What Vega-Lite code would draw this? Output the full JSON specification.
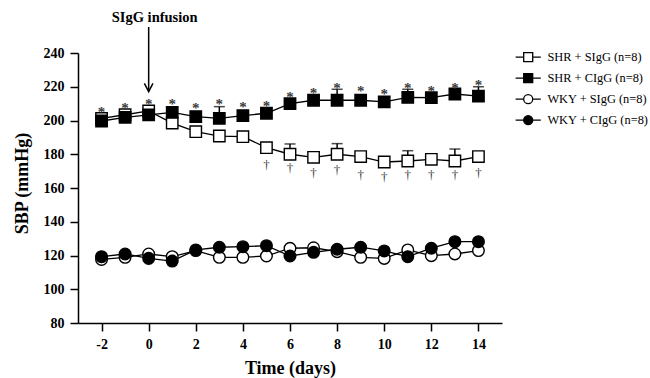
{
  "$schema": "https://vega.github.io/schema/vega-lite/v6.json",
  "width": 424,
  "height": 270,
  "autosize": "none",
  "padding": {"left": 78, "top": 53, "right": 148, "bottom": 55},
  "config": {
    "view": {"stroke": null},
    "font": "Liberation Serif",
    "axis": {
      "grid": false,
      "domainColor": "black",
      "domainWidth": 1.5,
      "tickColor": "black",
      "tickWidth": 1.5,
      "tickSize": 8,
      "labelFont": "Liberation Serif",
      "labelFontWeight": "bold",
      "labelFontSize": 14,
      "labelColor": "black",
      "labelOverlap": false,
      "titleFont": "Liberation Serif",
      "titleFontWeight": "bold",
      "titleColor": "black"
    }
  },
  "datasets": {
    "series": [
      {"day": -2, "group": "SHR + SIgG (n=8)", "sbp": 201.2},
      {"day": -1, "group": "SHR + SIgG (n=8)", "sbp": 203.4},
      {"day": 0, "group": "SHR + SIgG (n=8)", "sbp": 205.7},
      {"day": 1, "group": "SHR + SIgG (n=8)", "sbp": 198.5},
      {"day": 2, "group": "SHR + SIgG (n=8)", "sbp": 193.4},
      {"day": 3, "group": "SHR + SIgG (n=8)", "sbp": 190.8},
      {"day": 4, "group": "SHR + SIgG (n=8)", "sbp": 190.4},
      {"day": 5, "group": "SHR + SIgG (n=8)", "sbp": 183.9},
      {"day": 6, "group": "SHR + SIgG (n=8)", "sbp": 180.0, "hi": 186.1},
      {"day": 7, "group": "SHR + SIgG (n=8)", "sbp": 178.2},
      {"day": 8, "group": "SHR + SIgG (n=8)", "sbp": 180.0, "hi": 186.3},
      {"day": 9, "group": "SHR + SIgG (n=8)", "sbp": 178.6},
      {"day": 10, "group": "SHR + SIgG (n=8)", "sbp": 175.4},
      {"day": 11, "group": "SHR + SIgG (n=8)", "sbp": 176.0, "hi": 182.1},
      {"day": 12, "group": "SHR + SIgG (n=8)", "sbp": 177.0},
      {"day": 13, "group": "SHR + SIgG (n=8)", "sbp": 176.0, "hi": 183.1},
      {"day": 14, "group": "SHR + SIgG (n=8)", "sbp": 178.6},
      {"day": -2, "group": "SHR + CIgG (n=8)", "sbp": 199.7},
      {"day": -1, "group": "SHR + CIgG (n=8)", "sbp": 201.9},
      {"day": 0, "group": "SHR + CIgG (n=8)", "sbp": 203.3},
      {"day": 1, "group": "SHR + CIgG (n=8)", "sbp": 204.8},
      {"day": 2, "group": "SHR + CIgG (n=8)", "sbp": 202.3},
      {"day": 3, "group": "SHR + CIgG (n=8)", "sbp": 201.3, "hi": 208.2},
      {"day": 4, "group": "SHR + CIgG (n=8)", "sbp": 202.9},
      {"day": 5, "group": "SHR + CIgG (n=8)", "sbp": 204.3},
      {"day": 6, "group": "SHR + CIgG (n=8)", "sbp": 210.0},
      {"day": 7, "group": "SHR + CIgG (n=8)", "sbp": 212.0},
      {"day": 8, "group": "SHR + CIgG (n=8)", "sbp": 212.0, "hi": 218.5},
      {"day": 9, "group": "SHR + CIgG (n=8)", "sbp": 212.0},
      {"day": 10, "group": "SHR + CIgG (n=8)", "sbp": 211.0},
      {"day": 11, "group": "SHR + CIgG (n=8)", "sbp": 213.7, "hi": 218.5},
      {"day": 12, "group": "SHR + CIgG (n=8)", "sbp": 213.5},
      {"day": 13, "group": "SHR + CIgG (n=8)", "sbp": 215.7},
      {"day": 14, "group": "SHR + CIgG (n=8)", "sbp": 214.5, "hi": 220.0},
      {"day": -2, "group": "WKY + SIgG (n=8)", "sbp": 117.7},
      {"day": -1, "group": "WKY + SIgG (n=8)", "sbp": 118.9},
      {"day": 0, "group": "WKY + SIgG (n=8)", "sbp": 120.9},
      {"day": 1, "group": "WKY + SIgG (n=8)", "sbp": 119.3},
      {"day": 2, "group": "WKY + SIgG (n=8)", "sbp": 122.9},
      {"day": 3, "group": "WKY + SIgG (n=8)", "sbp": 118.9},
      {"day": 4, "group": "WKY + SIgG (n=8)", "sbp": 118.9},
      {"day": 5, "group": "WKY + SIgG (n=8)", "sbp": 119.7},
      {"day": 6, "group": "WKY + SIgG (n=8)", "sbp": 124.3},
      {"day": 7, "group": "WKY + SIgG (n=8)", "sbp": 124.6},
      {"day": 8, "group": "WKY + SIgG (n=8)", "sbp": 122.3},
      {"day": 9, "group": "WKY + SIgG (n=8)", "sbp": 118.9},
      {"day": 10, "group": "WKY + SIgG (n=8)", "sbp": 118.3},
      {"day": 11, "group": "WKY + SIgG (n=8)", "sbp": 123.3},
      {"day": 12, "group": "WKY + SIgG (n=8)", "sbp": 119.9},
      {"day": 13, "group": "WKY + SIgG (n=8)", "sbp": 120.9},
      {"day": 14, "group": "WKY + SIgG (n=8)", "sbp": 122.9},
      {"day": -2, "group": "WKY + CIgG (n=8)", "sbp": 119.3},
      {"day": -1, "group": "WKY + CIgG (n=8)", "sbp": 120.9},
      {"day": 0, "group": "WKY + CIgG (n=8)", "sbp": 118.3},
      {"day": 1, "group": "WKY + CIgG (n=8)", "sbp": 116.7},
      {"day": 2, "group": "WKY + CIgG (n=8)", "sbp": 123.3},
      {"day": 3, "group": "WKY + CIgG (n=8)", "sbp": 124.9},
      {"day": 4, "group": "WKY + CIgG (n=8)", "sbp": 125.2},
      {"day": 5, "group": "WKY + CIgG (n=8)", "sbp": 125.8},
      {"day": 6, "group": "WKY + CIgG (n=8)", "sbp": 119.7},
      {"day": 7, "group": "WKY + CIgG (n=8)", "sbp": 121.9},
      {"day": 8, "group": "WKY + CIgG (n=8)", "sbp": 123.7},
      {"day": 9, "group": "WKY + CIgG (n=8)", "sbp": 124.9},
      {"day": 10, "group": "WKY + CIgG (n=8)", "sbp": 122.7},
      {"day": 11, "group": "WKY + CIgG (n=8)", "sbp": 119.3},
      {"day": 12, "group": "WKY + CIgG (n=8)", "sbp": 124.3},
      {"day": 13, "group": "WKY + CIgG (n=8)", "sbp": 128.2},
      {"day": 14, "group": "WKY + CIgG (n=8)", "sbp": 128.2}
    ],
    "stars": [
      {"day": -2, "y": 207.6}, {"day": -1, "y": 209.6}, {"day": 0, "y": 212.0},
      {"day": 1, "y": 212.0}, {"day": 2, "y": 209.6}, {"day": 3, "y": 212.0},
      {"day": 4, "y": 210.2}, {"day": 5, "y": 210.8}, {"day": 6, "y": 216.5},
      {"day": 7, "y": 218.7}, {"day": 8, "y": 221.6}, {"day": 9, "y": 220.0},
      {"day": 10, "y": 218.0}, {"day": 11, "y": 221.6}, {"day": 12, "y": 219.7},
      {"day": 13, "y": 221.6}, {"day": 14, "y": 223.6}
    ],
    "daggers": [
      {"day": 5, "y": 173.6}, {"day": 6, "y": 171.7}, {"day": 7, "y": 169.1},
      {"day": 8, "y": 170.7}, {"day": 9, "y": 167.7}, {"day": 10, "y": 166.7},
      {"day": 11, "y": 167.7}, {"day": 12, "y": 167.7}, {"day": 13, "y": 167.7},
      {"day": 14, "y": 168.7}
    ],
    "arrow": [
      {"day": 0, "top": 255.4, "tip": 217.1, "label": "SIgG infusion", "labelY": 258.4}
    ]
  },
  "encoding": {
    "x": {
      "field": "day",
      "type": "quantitative",
      "scale": {"domain": [-3, 15], "nice": false, "zero": false},
      "axis": {
        "values": [-2, 0, 2, 4, 6, 8, 10, 12, 14],
        "labelExpr": "'' + datum.value",
        "title": "Time (days)",
        "titleFontSize": 18,
        "titlePadding": 8,
        "labelPadding": 6
      }
    }
  },
  "layer": [
    {
      "data": {"name": "series"},
      "mark": {"type": "point", "size": 81, "stroke": "black", "strokeWidth": 1.3, "opacity": 0},
      "encoding": {
        "y": {"field": "sbp", "type": "quantitative", "scale": {"domain": [80, 240], "nice": false, "zero": false},
          "axis": {"values": [80, 100, 120, 140, 160, 180, 200, 220, 240], "title": "SBP (mmHg)", "titleFontSize": 18, "labelPadding": 6, "titlePadding": 12, "titleY": 130}},
        "shape": {
          "field": "group",
          "type": "nominal",
          "scale": {
            "domain": ["SHR + SIgG (n=8)", "SHR + CIgG (n=8)", "WKY + SIgG (n=8)", "WKY + CIgG (n=8)"],
            "range": [
              "M-2.8,0H-1M1,0H2.8M-1,-1H1V1H-1Z",
              "M-2.8,0H-1M1,0H2.8M-1,-1H1V1H-1Z",
              "M-2.8,0H-1M1,0H2.8M1,0A1,1,0,1,0,-1,0A1,1,0,1,0,1,0Z",
              "M-2.8,0H-1M1,0H2.8M1,0A1,1,0,1,0,-1,0A1,1,0,1,0,1,0Z"
            ]
          },
          "legend": {
            "title": null, "orient": "none", "legendX": 444, "legendY": -2,
            "symbolSize": 81, "symbolOpacity": 1, "symbolStrokeWidth": 1.3,
            "labelFont": "Liberation Serif", "labelFontSize": 12.4, "labelColor": "black",
            "labelOffset": 13, "rowPadding": 6, "padding": 0
          }
        },
        "fill": {
          "field": "group",
          "type": "nominal",
          "scale": {
            "domain": ["SHR + SIgG (n=8)", "SHR + CIgG (n=8)", "WKY + SIgG (n=8)", "WKY + CIgG (n=8)"],
            "range": ["white", "black", "white", "black"]
          },
          "legend": {
            "title": null, "orient": "none", "legendX": 444, "legendY": -2,
            "symbolSize": 81, "symbolOpacity": 1, "symbolStrokeWidth": 1.3,
            "labelFont": "Liberation Serif", "labelFontSize": 12.4, "labelColor": "black",
            "labelOffset": 13, "rowPadding": 6, "padding": 0
          }
        },
        "stroke": {
          "field": "group",
          "type": "nominal",
          "scale": {
            "domain": ["SHR + SIgG (n=8)", "SHR + CIgG (n=8)", "WKY + SIgG (n=8)", "WKY + CIgG (n=8)"],
            "range": ["black", "black", "black", "black"]
          },
          "legend": {
            "title": null, "orient": "none", "legendX": 444, "legendY": -2,
            "symbolSize": 81, "symbolOpacity": 1, "symbolStrokeWidth": 1.3,
            "labelFont": "Liberation Serif", "labelFontSize": 12.4, "labelColor": "black",
            "labelOffset": 13, "rowPadding": 6, "padding": 0
          }
        }
      }
    },
    {
      "data": {"name": "series"},
      "mark": {"type": "line", "color": "black", "strokeWidth": 1.3},
      "encoding": {
        "y": {"field": "sbp", "type": "quantitative",
          "axis": {"values": [80, 100, 120, 140, 160, 180, 200, 220, 240], "title": "SBP (mmHg)", "titleFontSize": 18, "labelPadding": 6, "titlePadding": 12, "titleY": 130}},
        "detail": {"field": "group", "type": "nominal"}
      }
    },
    {
      "data": {"name": "series"},
      "mark": {"type": "rule", "color": "black", "strokeWidth": 1.5},
      "encoding": {
        "y": {"field": "sbp", "type": "quantitative",
          "axis": {"values": [80, 100, 120, 140, 160, 180, 200, 220, 240], "title": "SBP (mmHg)", "titleFontSize": 18, "labelPadding": 6, "titlePadding": 12, "titleY": 130}},
        "y2": {"field": "hi"}
      }
    },
    {
      "data": {"name": "series"},
      "mark": {"type": "tick", "orient": "horizontal", "color": "black", "size": 11, "thickness": 1.5},
      "encoding": {
        "y": {"field": "hi", "type": "quantitative",
          "axis": {"values": [80, 100, 120, 140, 160, 180, 200, 220, 240], "title": "SBP (mmHg)", "titleFontSize": 18, "labelPadding": 6, "titlePadding": 12, "titleY": 130}}
      }
    },
    {
      "data": {"name": "series"},
      "transform": [{"filter": "datum.group === 'SHR + SIgG (n=8)'"}],
      "mark": {"type": "point", "shape": "square", "size": 130, "fill": "white", "stroke": "black", "strokeWidth": 1.4, "opacity": 1},
      "encoding": {
        "y": {"field": "sbp", "type": "quantitative",
          "axis": {"values": [80, 100, 120, 140, 160, 180, 200, 220, 240], "title": "SBP (mmHg)", "titleFontSize": 18, "labelPadding": 6, "titlePadding": 12, "titleY": 130}}
      }
    },
    {
      "data": {"name": "series"},
      "transform": [{"filter": "datum.group === 'SHR + CIgG (n=8)'"}],
      "mark": {"type": "point", "shape": "square", "size": 130, "fill": "black", "stroke": "black", "strokeWidth": 1.4, "opacity": 1},
      "encoding": {
        "y": {"field": "sbp", "type": "quantitative",
          "axis": {"values": [80, 100, 120, 140, 160, 180, 200, 220, 240], "title": "SBP (mmHg)", "titleFontSize": 18, "labelPadding": 6, "titlePadding": 12, "titleY": 130}}
      }
    },
    {
      "data": {"name": "series"},
      "transform": [{"filter": "datum.group === 'WKY + SIgG (n=8)'"}],
      "mark": {"type": "point", "shape": "circle", "size": 135, "fill": "white", "stroke": "black", "strokeWidth": 1.4, "opacity": 1},
      "encoding": {
        "y": {"field": "sbp", "type": "quantitative",
          "axis": {"values": [80, 100, 120, 140, 160, 180, 200, 220, 240], "title": "SBP (mmHg)", "titleFontSize": 18, "labelPadding": 6, "titlePadding": 12, "titleY": 130}}
      }
    },
    {
      "data": {"name": "series"},
      "transform": [{"filter": "datum.group === 'WKY + CIgG (n=8)'"}],
      "mark": {"type": "point", "shape": "circle", "size": 135, "fill": "black", "stroke": "black", "strokeWidth": 1.4, "opacity": 1},
      "encoding": {
        "y": {"field": "sbp", "type": "quantitative",
          "axis": {"values": [80, 100, 120, 140, 160, 180, 200, 220, 240], "title": "SBP (mmHg)", "titleFontSize": 18, "labelPadding": 6, "titlePadding": 12, "titleY": 130}}
      }
    },
    {
      "data": {"name": "stars"},
      "mark": {"type": "text", "text": "*", "fontSize": 15, "fontWeight": "bold", "fill": "#3a3a3a", "baseline": "middle", "dy": 4},
      "encoding": {"y": {"field": "y", "type": "quantitative",
          "axis": {"values": [80, 100, 120, 140, 160, 180, 200, 220, 240], "title": "SBP (mmHg)", "titleFontSize": 18, "labelPadding": 6, "titlePadding": 12, "titleY": 130}}}
    },
    {
      "data": {"name": "daggers"},
      "mark": {"type": "text", "text": "†", "fontSize": 13, "fill": "#3a3a3a", "baseline": "middle"},
      "encoding": {"y": {"field": "y", "type": "quantitative",
          "axis": {"values": [80, 100, 120, 140, 160, 180, 200, 220, 240], "title": "SBP (mmHg)", "titleFontSize": 18, "labelPadding": 6, "titlePadding": 12, "titleY": 130}}}
    },
    {
      "data": {"name": "arrow"},
      "mark": {"type": "rule", "color": "black", "strokeWidth": 1.5},
      "encoding": {
        "y": {"field": "top", "type": "quantitative",
          "axis": {"values": [80, 100, 120, 140, 160, 180, 200, 220, 240], "title": "SBP (mmHg)", "titleFontSize": 18, "labelPadding": 6, "titlePadding": 12, "titleY": 130}},
        "y2": {"field": "tip"}
      }
    },
    {
      "data": {"name": "arrow"},
      "mark": {"type": "point", "shape": "M-1,-1.9L0,0L1,-1.9", "size": 74, "filled": false, "stroke": "black", "fill": null, "strokeWidth": 1.5, "opacity": 1},
      "encoding": {"y": {"field": "tip", "type": "quantitative",
          "axis": {"values": [80, 100, 120, 140, 160, 180, 200, 220, 240], "title": "SBP (mmHg)", "titleFontSize": 18, "labelPadding": 6, "titlePadding": 12, "titleY": 130}}}
    },
    {
      "data": {"name": "arrow"},
      "mark": {"type": "text", "fontSize": 14.5, "fontWeight": "bold", "fill": "black", "dx": 6, "baseline": "alphabetic"},
      "encoding": {
        "y": {"field": "labelY", "type": "quantitative",
          "axis": {"values": [80, 100, 120, 140, 160, 180, 200, 220, 240], "title": "SBP (mmHg)", "titleFontSize": 18, "labelPadding": 6, "titlePadding": 12, "titleY": 130}},
        "text": {"field": "label"}
      }
    }
  ]
}
